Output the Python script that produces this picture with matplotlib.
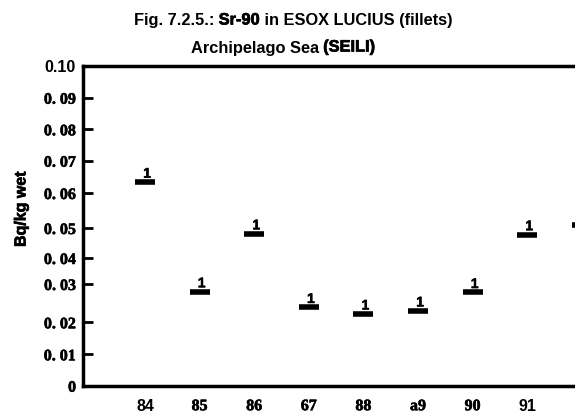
import numpy as np
import matplotlib
matplotlib.use("Agg")
import matplotlib.pyplot as plt
import matplotlib.patheffects as pe

# Sr-90 in pike fillets, Seili station
years = ["84", "85", "86", "67", "88", "a9", "90", "91", "92"]
values = [0.0634, 0.0280, 0.0481, 0.0239, 0.0222, 0.0230, 0.0278, 0.0478, 0.0509]
counts = ["1", "1", "1", "1", "1", "1", "1", "1", ""]

# tick values and where they sit on the (hand drawn) axis, in pixels from the bottom
tick_vals = [0.0, 0.01, 0.02, 0.03, 0.04, 0.05, 0.06, 0.07, 0.08, 0.09, 0.10]
tick_labels = ["0", "0. 01", "0. 02", "0. 03", "0. 04", "0. 05",
               "0. 06", "0. 07", "0. 08", "0. 09", "0.10"]
tick_pix = [0.0, 31.4, 63.4, 101.7, 127.7, 157.7, 192.7, 225.0, 256.4, 288.0, 320.2]

SANS = "Liberation Sans"
SERIF = "Liberation Serif"


def heavy(lw):
    return [pe.withStroke(linewidth=lw, foreground="black")]


W, H = 575, 414
fig = plt.figure(figsize=(W / 100, H / 100), dpi=100)
fig.patch.set_facecolor("white")

# axes placed in pixel terms; it runs past the right border of the page
left_px, right_px, bottom_px = 83, 620, 386.7
top_px = bottom_px - tick_pix[-1]
ax = fig.add_axes([left_px / W, (H - bottom_px) / H,
                   (right_px - left_px) / W, (bottom_px - top_px) / H])


def fwd(v):
    return np.interp(v, tick_vals, tick_pix)


def inv(p):
    return np.interp(p, tick_pix, tick_vals)


ax.set_yscale("function", functions=(fwd, inv))
ax.set_ylim(0, 0.10)

step = 54.6
ax.set_xlim((left_px - 145) / step, (right_px - 145) / step)

x = np.arange(len(years))
ax.plot(x, values, linestyle="none", marker="_", markersize=15,
        markeredgewidth=4.0, color="black", clip_on=False)
for xi, v, c in zip(x, values, counts):
    if c:
        ax.annotate(c, (xi, v), xytext=(1.5, 1), textcoords="offset points",
                    ha="center", va="bottom", fontsize=10,
                    fontweight="bold", family=SANS, path_effects=heavy(0.4))

for s in ["left", "top", "bottom"]:
    ax.spines[s].set_linewidth(2.5)
ax.spines["right"].set_visible(False)

ax.set_yticks(tick_vals)
ax.set_yticklabels(tick_labels)
ax.tick_params(axis="y", direction="in", length=7.5, width=2, pad=5)
for lab in ax.get_yticklabels():
    lab.set_fontweight("bold")
    if lab.get_text() == "0.10":
        lab.set_family(SANS)
        lab.set_fontsize(11.5)
    else:
        lab.set_family(SERIF)
        lab.set_fontsize(11.5)
        lab.set_path_effects(heavy(0.4))

ax.set_xticks(x[:8])
ax.set_xticklabels(years[:8])
ax.tick_params(axis="x", length=0, pad=9)
for lab in ax.get_xticklabels():
    lab.set_fontweight("bold")
    lab.set_fontsize(11.5)
    if lab.get_text() in ("84", "91"):
        lab.set_family(SANS)
    else:
        lab.set_family(SERIF)
        lab.set_path_effects(heavy(0.4))

fig.text(21 / W, 1 - 210 / H, "Bq/kg wet", rotation=90, ha="center",
         va="center", fontsize=11.5, fontweight="bold", family=SANS,
         path_effects=heavy(0.5))


def title_line(parts, xc, yb, size):
    """Draw a centred line built from (text, heavy) pieces."""
    renderer = fig.canvas.get_renderer()
    texts = []
    for s, thick in parts:
        t = fig.text(0, 1 - yb / H, s, ha="left", va="baseline",
                     fontsize=size, fontweight="bold", family=SANS,
                     path_effects=heavy(0.5) if thick else None)
        texts.append(t)
    widths = [t.get_window_extent(renderer).width for t in texts]
    x0 = xc - sum(widths) / 2
    for t, w in zip(texts, widths):
        t.set_x(x0 / W)
        x0 += w


title_line([("Fig. 7.2.5.: ", False), ("Sr-90", True),
            (" in ESOX LUCIUS (fillets)", False)], 293, 25.5, 11.8)
title_line([("Archipelago Sea ", False), ("(SEILI)", True)], 283, 52.5, 11.8)

fig.savefig("out.png", dpi=100)
